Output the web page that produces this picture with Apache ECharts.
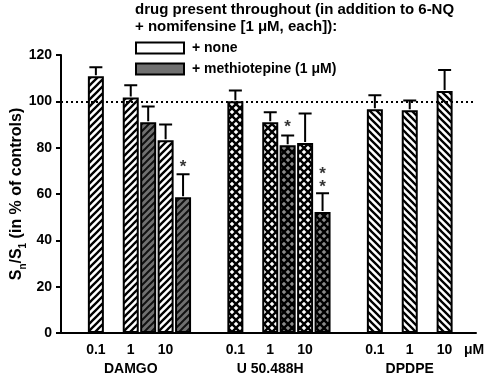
<!DOCTYPE html>
<html>
<head>
<meta charset="utf-8">
<script src="https://cdn.jsdelivr.net/npm/echarts@6/dist/echarts.min.js"></script>
<style>
html,body{margin:0;padding:0;background:#fff;}
#chart{width:492px;height:374px;}
</style>
</head>
<body>
<div id="chart"></div>
<script>
// ---- data ----
const doseLabels = ['0.1', '1', '10'];
const drugs = ['DAMGO', 'U 50.488H', 'DPDPE'];
const groupStart = [0, 4, 8];
const yTicks = [0, 20, 40, 60, 80, 100, 120];

const damgoNone = [110.8, 101.7, 83.2];
const damgoNoneErr = [3.9, 5.2, 6.8];
const damgoMeth = [null, 91.0, 58.6];
const damgoMethErr = [null, 6.8, 9.9];

const u50None = [100.0, 91.0, 82.0];
const u50NoneErr = [4.7, 4.3, 12.8];
const u50Meth = [null, 81.0, 52.2];
const u50MethErr = [null, 4.3, 8.1];

const dpdpeNone = [96.6, 96.1, 104.5];
const dpdpeNoneErr = [6.0, 4.3, 9.0];

const controlLevel = 100;

// significance marks: [group, dose index, y position, text]
const stars = [
  [0, 2, 71.5, '*'],
  [1, 1, 89, '*'],
  [1, 2, 65.5, '*\n*']
];

const legendNames = ['+ none', '+ methiotepine (1 μM)'];
const titleText = 'drug present throughout (in addition to 6-NQ\n+ nomifensine [1 μM, each]):';
const unitLabel = 'μM';

// ---- patterns ----
function stripes(dir, bg, fg, lw) {
  const s = 7;
  const c = document.createElement('canvas');
  c.width = s; c.height = s;
  const g = c.getContext('2d');
  g.fillStyle = bg; g.fillRect(0, 0, s, s);
  g.strokeStyle = fg; g.lineWidth = lw;
  g.beginPath();
  if (dir === '/') {
    g.moveTo(-1, s + 1); g.lineTo(s + 1, -1);
    g.moveTo(-1, 1); g.lineTo(1, -1);
    g.moveTo(s - 1, s + 1); g.lineTo(s + 1, s - 1);
  } else {
    g.moveTo(-1, -1); g.lineTo(s + 1, s + 1);
    g.moveTo(-1, s - 1); g.lineTo(1, s + 1);
    g.moveTo(s - 1, -1); g.lineTo(s + 1, 1);
  }
  g.stroke();
  return { image: c, repeat: 'repeat' };
}
function diamonds(bg, fg) {
  const s = 8;
  const c = document.createElement('canvas');
  c.width = s; c.height = s;
  const g = c.getContext('2d');
  g.fillStyle = bg; g.fillRect(0, 0, s, s);
  g.fillStyle = fg;
  const r = 2.3;
  const centers = [[0, 0], [s, 0], [0, s], [s, s], [s / 2, s / 2]];
  centers.forEach(([x, y]) => {
    g.beginPath();
    g.moveTo(x, y - r); g.lineTo(x + r, y); g.lineTo(x, y + r); g.lineTo(x - r, y);
    g.closePath(); g.fill();
  });
  return { image: c, repeat: 'repeat' };
}

const GRAY = '#707070';
const patNoneA = stripes('/', '#fff', '#000', 2.3);
const patMethA = stripes('/', GRAY, '#111', 2);
const patNoneU = diamonds('#000', '#fff');
const patMethU = diamonds('#000', '#8a8a8a');
const patNoneD = stripes('\\', '#fff', '#000', 2.3);

// ---- build series data ----
function pts(g, vals, off) {
  const out = [];
  vals.forEach((v, i) => { if (v != null) out.push([groupStart[g] + i + off, v]); });
  return out;
}
function errs(g, vals, e, off) {
  const out = [];
  vals.forEach((v, i) => { if (v != null) out.push([groupStart[g] + i + off, v, v + e[i]]); });
  return out;
}

const font = 'Liberation Sans, Arial, sans-serif';
const barBase = {
  type: 'bar', barWidth: 16, barGap: '-100%', z: 3
};
function barSeries(name, data, pat) {
  return Object.assign({}, barBase, {
    name: name, data: data,
    itemStyle: { color: pat, borderColor: '#000', borderWidth: 2 }
  });
}

const errData = [].concat(
  errs(0, damgoNone, damgoNoneErr, 0), errs(0, damgoMeth, damgoMethErr, 0.5),
  errs(1, u50None, u50NoneErr, 0), errs(1, u50Meth, u50MethErr, 0.5),
  errs(2, dpdpeNone, dpdpeNoneErr, 0)
);

const starData = stars.map(s => ({ value: [groupStart[s[0]] + s[1] + 0.5, s[2]], label: { formatter: s[3] } }));

const chart = echarts.init(document.getElementById('chart'), null, { renderer: 'canvas' });
chart.setOption({
  animation: false,
  backgroundColor: '#fff',
  textStyle: { fontFamily: font },
  title: {
    text: titleText, left: 130, top: -4,
    textStyle: { fontFamily: font, fontSize: 15, fontWeight: 'bold', color: '#000', lineHeight: 17 }
  },
  legend: {
    data: legendNames, orient: 'vertical', left: 130, top: 36,
    itemWidth: 48, itemHeight: 11, itemGap: 7, icon: 'rect',
    textStyle: { fontFamily: font, fontSize: 14, fontWeight: 'bold', color: '#000', padding: [0, 0, 0, 3] }
  },
  grid: { left: 61, right: 16, top: 55, bottom: 41, containLabel: false, outerBoundsMode: 'none' },
  xAxis: {
    type: 'value', min: -1, max: 10.9, interval: 1,
    name: unitLabel, nameLocation: 'end', nameGap: -2,
    nameTextStyle: { fontFamily: font, fontSize: 14, fontWeight: 'bold', color: '#000', align: 'center', verticalAlign: 'top', padding: [10, 0, 0, 0] },
    axisLine: { onZero: false, lineStyle: { color: '#000', width: 2 } },
    axisTick: { show: false },
    splitLine: { show: false },
    axisLabel: {
      margin: 8, color: '#000', fontFamily: font, fontSize: 14, fontWeight: 'bold', lineHeight: 19,
      showMaxLabel: false, showMinLabel: false,
      formatter: function (v) {
        v = Math.round(v);
        for (let g = 0; g < groupStart.length; g++) {
          const i = v - groupStart[g];
          if (i >= 0 && i < doseLabels.length) {
            return i === 1 ? doseLabels[i] + '\n' + drugs[g] : doseLabels[i];
          }
        }
        return '';
      }
    }
  },
  yAxis: {
    type: 'value', min: yTicks[0], max: yTicks[yTicks.length - 1], interval: 20,
    name: '{a|S}{b|n}{a|/S}{b|1}{a| (in % of controls)}',
    nameLocation: 'middle', nameGap: 33, nameMoveOverlap: false,
    nameTextStyle: {
      rich: {
        a: { fontFamily: font, fontSize: 16, fontWeight: 'bold', color: '#000', lineHeight: 22, verticalAlign: 'middle' },
        b: { fontFamily: font, fontSize: 10, fontWeight: 'bold', color: '#000', lineHeight: 22, verticalAlign: 'bottom' }
      }
    },
    axisLine: { show: true, onZero: false, lineStyle: { color: '#000', width: 2 } },
    axisTick: { show: true, length: 5, lineStyle: { color: '#000', width: 2 } },
    splitLine: { show: false },
    axisLabel: { margin: 9, color: '#000', fontFamily: font, fontSize: 14, fontWeight: 'bold' }
  },
  series: [
    {
      type: 'scatter', data: [], z: 1, silent: true,
      markLine: {
        silent: true, symbol: 'none', label: { show: false },
        lineStyle: { color: '#000', width: 2, type: [2, 3] },
        data: [{ yAxis: controlLevel }]
      }
    },
    Object.assign({}, barBase, { name: legendNames[0], data: [], itemStyle: { color: '#fff', borderColor: '#000', borderWidth: 2 } }),
    Object.assign({}, barBase, { name: legendNames[1], data: [], itemStyle: { color: GRAY, borderColor: '#000', borderWidth: 2 } }),
    barSeries('damgoNone', pts(0, damgoNone, 0), patNoneA),
    barSeries('damgoMeth', pts(0, damgoMeth, 0.5), patMethA),
    barSeries('u50None', pts(1, u50None, 0), patNoneU),
    barSeries('u50Meth', pts(1, u50Meth, 0.5), patMethU),
    barSeries('dpdpeNone', pts(2, dpdpeNone, 0), patNoneD),
    {
      type: 'custom', z: 5, data: errData,
      dimensions: ['x', 'mean', 'upper'],
      encode: { x: 0, y: [1, 2] },
      renderItem: function (params, api) {
        const x = api.value(0), m = api.value(1), u = api.value(2);
        const p0 = api.coord([x, m]);
        const p1 = api.coord([x, u]);
        const d = 'M' + p0[0] + ' ' + (p0[1] - 1) + 'L' + p1[0] + ' ' + p1[1] +
          'M' + (p1[0] - 6.5) + ' ' + p1[1] + 'L' + (p1[0] + 6.5) + ' ' + p1[1];
        return {
          type: 'path',
          shape: { pathData: d },
          style: { stroke: '#000', lineWidth: 2, fill: null }
        };
      }
    },
    {
      type: 'scatter', z: 6, symbolSize: 0, data: starData, silent: true,
      label: { show: true, position: 'inside', color: '#000', fontFamily: font, fontSize: 17, fontWeight: 'bold', lineHeight: 13 }
    }
  ]
});
</script>
</body>
</html>
